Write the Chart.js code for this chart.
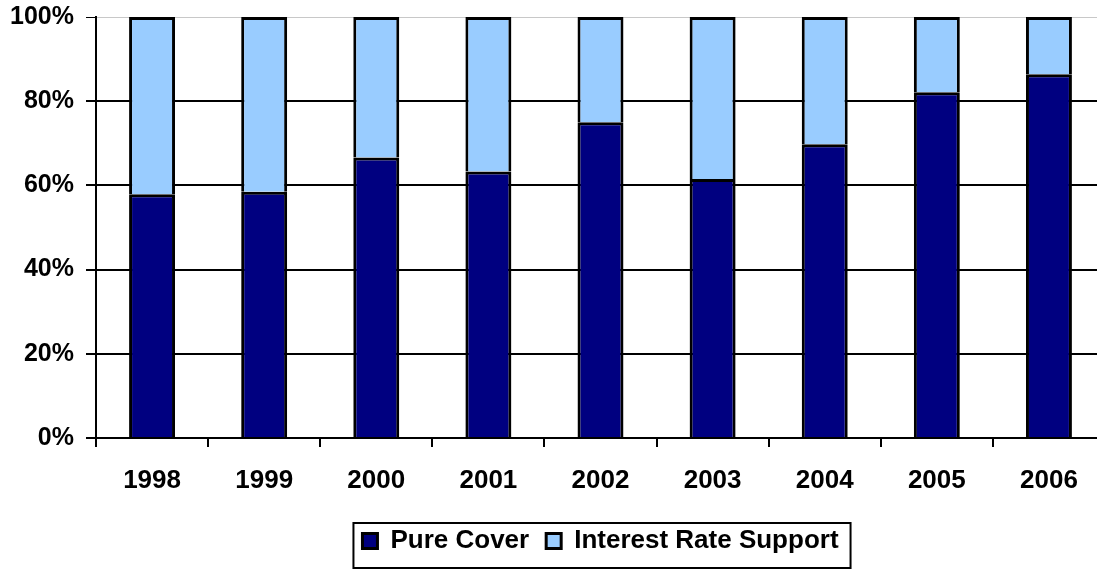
<!DOCTYPE html>
<html>
<head>
<meta charset="utf-8">
<script src="https://cdn.jsdelivr.net/npm/chart.js@4.4.0/dist/chart.umd.min.js"></script>
<style>
  html, body { margin: 0; padding: 0; background: #fff; overflow: hidden; }
  #wrap { width: 1105px; height: 570px; position: relative; }
</style>
</head>
<body>
<div id="wrap"><canvas id="coverChart"></canvas></div>
<script>
const years = ["1998", "1999", "2000", "2001", "2002", "2003", "2004", "2005", "2006"];
const pureCover = [57.9, 58.5, 66.6, 63.3, 75.0, 61.5, 69.8, 82.1, 86.4];
const interestRateSupport = [42.1, 41.5, 33.4, 36.7, 25.0, 38.5, 30.2, 17.9, 13.6];
const yTicks = [0, 20, 40, 60, 80, 100];

Chart.defaults.font.family = "'Liberation Sans', Arial, sans-serif";
Chart.defaults.font.weight = "bold";
Chart.defaults.font.size = 26;
Chart.defaults.color = "#000";

// frame around the legend row
const legendFrame = {
  id: "legendFrame",
  afterDraw(chart) {
    const boxes = chart.legend.legendHitBoxes;
    if (!boxes || !boxes.length) return;
    const first = boxes[0];
    const last = boxes[boxes.length - 1];
    const left = first.left - 9;
    const right = last.left + last.width + 12;
    const top = first.top - 5;
    const bottom = first.top + 40;
    const ctx = chart.ctx;
    ctx.save();
    ctx.strokeStyle = "#000";
    ctx.lineWidth = 2;
    ctx.strokeRect(left, top, right - left, bottom - top);
    ctx.restore();
  }
};

new Chart(document.getElementById("coverChart").getContext("2d"), {
  type: "bar",
  data: {
    labels: years,
    datasets: [
      {
        label: "Pure Cover",
        data: pureCover,
        backgroundColor: "#000080",
        borderColor: "#000",
        borderWidth: 3,
        barPercentage: 0.41,
        categoryPercentage: 1
      },
      {
        label: "Interest Rate Support",
        data: interestRateSupport,
        backgroundColor: "#99ccff",
        borderColor: "#000",
        borderWidth: 3,
        barPercentage: 0.41,
        categoryPercentage: 1
      }
    ]
  },
  options: {
    responsive: true,
    maintainAspectRatio: false,
    animation: false,
    layout: { padding: { top: 17, right: 0, bottom: 6, left: 0 } },
    plugins: {
      tooltip: { enabled: false },
      legend: {
        position: "bottom",
        fullSize: false,
        labels: {
          boxWidth: 15,
          boxHeight: 15,
          padding: 17,
          font: { size: 26, weight: "bold" }
        }
      }
    },
    scales: {
      x: {
        stacked: true,
        afterFit(scale) { scale.height = 73; },
        grid: {
          offset: true,
          drawOnChartArea: false,
          drawTicks: true,
          tickLength: 9,
          color: "#000",
          lineWidth: 2
        },
        border: { color: "#000", width: 2 },
        ticks: { padding: 18, font: { size: 26, weight: "bold" } }
      },
      y: {
        stacked: true,
        min: 0,
        max: 100,
        afterFit(scale) {
          scale.width = 96;
          scale.paddingTop = 0;
          scale.paddingBottom = 0;
        },
        afterBuildTicks(scale) { scale.ticks = yTicks.map(v => ({ value: v })); },
        grid: {
          color: ctx => ctx.tick && ctx.tick.value === 100 ? "#c8c8c8" : "#000",
          lineWidth: ctx => ctx.tick && ctx.tick.value === 100 ? 1 : 2,
          tickLength: 10,
          tickColor: "#000"
        },
        border: { color: "#000", width: 2 },
        ticks: {
          padding: 12,
          font: { size: 25, weight: "bold" },
          callback: v => v + "%"
        }
      }
    }
  },
  plugins: [legendFrame]
});
</script>
</body>
</html>
